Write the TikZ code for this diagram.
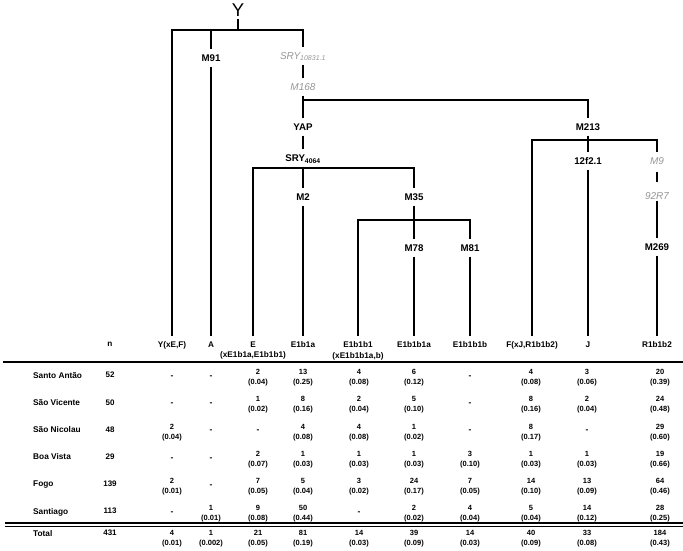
\documentclass[tikz,border=0pt]{standalone}
\usepackage{fontspec}
\setmainfont{Liberation Sans}
\definecolor{labgray}{RGB}{150,150,150}
\newcommand\tcell[5]{\node[val] (#1) at (#2,#3-5.7) {#4\\#5};}
\newcommand\tdash[3]{\node[dsh] (#1) at (#2,#3+1) {-};}
\begin{document}
\begin{tikzpicture}[x=1pt,y=-1pt,
 br/.style={line width=1.6pt},
 tl/.style={font=\fontsize{9.7}{11}\selectfont\bfseries, inner sep=0pt, text height=7pt, text depth=0pt, minimum height=17pt},
 gl/.style={tl, font=\fontsize{10}{12}\selectfont\itshape, text=labgray},
 hdr/.style={font=\fontsize{8.2}{10.5}\selectfont\bfseries, align=center, anchor=north, inner sep=0pt},
 rowlab/.style={font=\fontsize{8.3}{10}\selectfont\bfseries, anchor=west, inner sep=0pt, text height=6pt, text depth=0pt},
 ncell/.style={font=\fontsize{8}{10}\selectfont\bfseries, inner sep=0pt, text height=5.7pt, text depth=0pt},
 val/.style={font=\fontsize{7.5}{10}\selectfont\bfseries, align=center, anchor=north, inner sep=0pt},
 dsh/.style={font=\fontsize{8.5}{11}\selectfont\bfseries, inner sep=0pt, text height=5pt, text depth=0pt},
]
\useasboundingbox (0,0) rectangle (683,551);

% branch points
\coordinate (b1L) at (172,30); \coordinate (b1R) at (303,30);
\coordinate (b2L) at (303,100); \coordinate (b2R) at (588,100);
\coordinate (b3L) at (253,168); \coordinate (b3R) at (414,168);
\coordinate (b4L) at (358,220); \coordinate (b4R) at (470,220);
\coordinate (b5L) at (532,140); \coordinate (b5R) at (657,140);

% tree labels
\node[font=\fontsize{18.5}{20}\selectfont, inner sep=0pt] (Y) at (238,10) {Y};
\node[tl] (M91) at (211,58) {M91};
\node[gl] (SRYa) at (303,56) {SRY\textsubscript{10831.1}};
\node[gl] (M168) at (303,87) {M168};
\node[tl] (YAP) at (303,127) {YAP};
\node[tl] (SRYb) at (303,158) {SRY\textsubscript{4064}};
\node[tl] (M2) at (303,197) {M2};
\node[tl] (M35) at (414,197) {M35};
\node[tl] (M78) at (414,248) {M78};
\node[tl] (M81) at (470,248) {M81};
\node[tl] (M213) at (588,127) {M213};
\node[tl] (f12) at (588,161) {12f2.1};
\node[gl] (M9) at (657,161) {M9};
\node[gl] (R7) at (657,196) {92R7};
\node[tl] (M269) at (657,247) {M269};

% column headers
\node[hdr] (hn) at (110,341.5) {n};
\node[hdr] (h1) at (172,341.5) {Y(xE,F)};
\node[hdr] (h2) at (211,341.5) {A};
\node[hdr] (h3) at (253,341.5) {E\\(xE1b1a,E1b1b1)};
\node[hdr] (h4) at (303,341.5) {E1b1a};
\node[hdr] (h5) at (358,341.5) {E1b1b1\\(xE1b1b1a,b)};
\node[hdr] (h6) at (414,341.5) {E1b1b1a};
\node[hdr] (h7) at (470,341.5) {E1b1b1b};
\node[hdr] (h8) at (532,341.5) {F(xJ,R1b1b2)};
\node[hdr] (h9) at (588,341.5) {J};
\node[hdr] (h10) at (657,341.5) {R1b1b2};

% tree connectors
\draw[br,shorten <=2pt] (Y.south) -- (Y.south |- b1L);
\draw[br,shorten <=5.5pt] (h1.north) -- (b1L) -- (b1R) -- (SRYa);
\draw[br] (M91 |- b1L) -- (M91);
\draw[br,shorten >=5.5pt] (M91) -- (h2.north);
\draw[br] (SRYa) -- (M168);
\draw[br] (M168) -- (YAP);
\draw[br] (b2L) -- (b2R) -- (M213);
\draw[br] (YAP) -- (SRYb);
\draw[br] (SRYb) -- (SRYb |- b3L);
\draw[br,shorten <=5.5pt] (h3.north) -- (b3L) -- (b3R) -- (M35);
\draw[br] (M2 |- b3L) -- (M2);
\draw[br,shorten >=5.5pt] (M2) -- (h4.north);
\draw[br] (M35) -- (M35 |- b4L);
\draw[br,shorten <=5.5pt] (h5.north) -- (b4L) -- (b4R) -- (M81);
\draw[br] (M78 |- b4L) -- (M78);
\draw[br,shorten >=5.5pt] (M78) -- (h6.north);
\draw[br,shorten >=5.5pt] (M81) -- (h7.north);
\draw[br] (M213) -- (f12);
\draw[br,shorten >=5.5pt] (f12) -- (h9.north);
\draw[br,shorten <=5.5pt] (h8.north) -- (b5L) -- (b5R) -- (M9);
\draw[br,shorten <=2pt,shorten >=5pt] (M9) -- (R7);
\draw[br,shorten <=-4pt] (R7) -- (M269);
\draw[br,shorten >=5.5pt] (M269) -- (h10.north);

% table rules
\draw[line width=2.5pt] (3,362) -- (683,362);
\draw[line width=1.8pt] (5,523.2) -- (683,523.2);
\draw[line width=0.8pt] (5,526.2) -- (683,526.2);

% row labels and n
\node[rowlab] (l1) at (33,375) {Santo Antão};   \node[ncell] (n1) at (110,375) {52};
\node[rowlab] (l2) at (33,402.2) {São Vicente}; \node[ncell] (n2) at (110,402.2) {50};
\node[rowlab] (l3) at (33,429.4) {São Nicolau}; \node[ncell] (n3) at (110,429.4) {48};
\node[rowlab] (l4) at (33,456.6) {Boa Vista};   \node[ncell] (n4) at (110,456.6) {29};
\node[rowlab] (l5) at (33,483.8) {Fogo};        \node[ncell] (n5) at (110,483.8) {139};
\node[rowlab] (l6) at (33,511) {Santiago};      \node[ncell] (n6) at (110,511) {113};
\node[rowlab] (l7) at (33,533) {Total};         \node[ncell] (n7) at (110,533) {431};

% Santo Antao
\tdash{a1}{172}{375} \tdash{a2}{211}{375} \tcell{a3}{258}{375}{2}{(0.04)} \tcell{a4}{303}{375}{13}{(0.25)}
\tcell{a5}{359}{375}{4}{(0.08)} \tcell{a6}{414}{375}{6}{(0.12)} \tdash{a7}{470}{375}
\tcell{a8}{531}{375}{4}{(0.08)} \tcell{a9}{587}{375}{3}{(0.06)} \tcell{a10}{660}{375}{20}{(0.39)}
% Sao Vicente
\tdash{b1}{172}{402.2} \tdash{b2}{211}{402.2} \tcell{b3}{258}{402.2}{1}{(0.02)} \tcell{b4}{303}{402.2}{8}{(0.16)}
\tcell{b5}{359}{402.2}{2}{(0.04)} \tcell{b6}{414}{402.2}{5}{(0.10)} \tdash{b7}{470}{402.2}
\tcell{b8}{531}{402.2}{8}{(0.16)} \tcell{b9}{587}{402.2}{2}{(0.04)} \tcell{b10}{660}{402.2}{24}{(0.48)}
% Sao Nicolau
\tcell{c1}{172}{429.4}{2}{(0.04)} \tdash{c2}{211}{429.4} \tdash{c3}{258}{429.4} \tcell{c4}{303}{429.4}{4}{(0.08)}
\tcell{c5}{359}{429.4}{4}{(0.08)} \tcell{c6}{414}{429.4}{1}{(0.02)} \tdash{c7}{470}{429.4}
\tcell{c8}{531}{429.4}{8}{(0.17)} \tdash{c9}{587}{429.4} \tcell{c10}{660}{429.4}{29}{(0.60)}
% Boa Vista
\tdash{d1}{172}{456.6} \tdash{d2}{211}{456.6} \tcell{d3}{258}{456.6}{2}{(0.07)} \tcell{d4}{303}{456.6}{1}{(0.03)}
\tcell{d5}{359}{456.6}{1}{(0.03)} \tcell{d6}{414}{456.6}{1}{(0.03)} \tcell{d7}{470}{456.6}{3}{(0.10)}
\tcell{d8}{531}{456.6}{1}{(0.03)} \tcell{d9}{587}{456.6}{1}{(0.03)} \tcell{d10}{660}{456.6}{19}{(0.66)}
% Fogo
\tcell{e1}{172}{483.8}{2}{(0.01)} \tdash{e2}{211}{483.8} \tcell{e3}{258}{483.8}{7}{(0.05)} \tcell{e4}{303}{483.8}{5}{(0.04)}
\tcell{e5}{359}{483.8}{3}{(0.02)} \tcell{e6}{414}{483.8}{24}{(0.17)} \tcell{e7}{470}{483.8}{7}{(0.05)}
\tcell{e8}{531}{483.8}{14}{(0.10)} \tcell{e9}{587}{483.8}{13}{(0.09)} \tcell{e10}{660}{483.8}{64}{(0.46)}
% Santiago
\tdash{f1}{172}{511} \tcell{f2}{211}{511}{1}{(0.01)} \tcell{f3}{258}{511}{9}{(0.08)} \tcell{f4}{303}{511}{50}{(0.44)}
\tdash{f5}{359}{511} \tcell{f6}{414}{511}{2}{(0.02)} \tcell{f7}{470}{511}{4}{(0.04)}
\tcell{f8}{531}{511}{5}{(0.04)} \tcell{f9}{587}{511}{14}{(0.12)} \tcell{f10}{660}{511}{28}{(0.25)}
% Total
\tcell{g1}{172}{536}{4}{(0.01)} \tcell{g2}{211}{536}{1}{(0.002)} \tcell{g3}{258}{536}{21}{(0.05)} \tcell{g4}{303}{536}{81}{(0.19)}
\tcell{g5}{359}{536}{14}{(0.03)} \tcell{g6}{414}{536}{39}{(0.09)} \tcell{g7}{470}{536}{14}{(0.03)}
\tcell{g8}{531}{536}{40}{(0.09)} \tcell{g9}{587}{536}{33}{(0.08)} \tcell{g10}{660}{536}{184}{(0.43)}
\end{tikzpicture}
\end{document}
